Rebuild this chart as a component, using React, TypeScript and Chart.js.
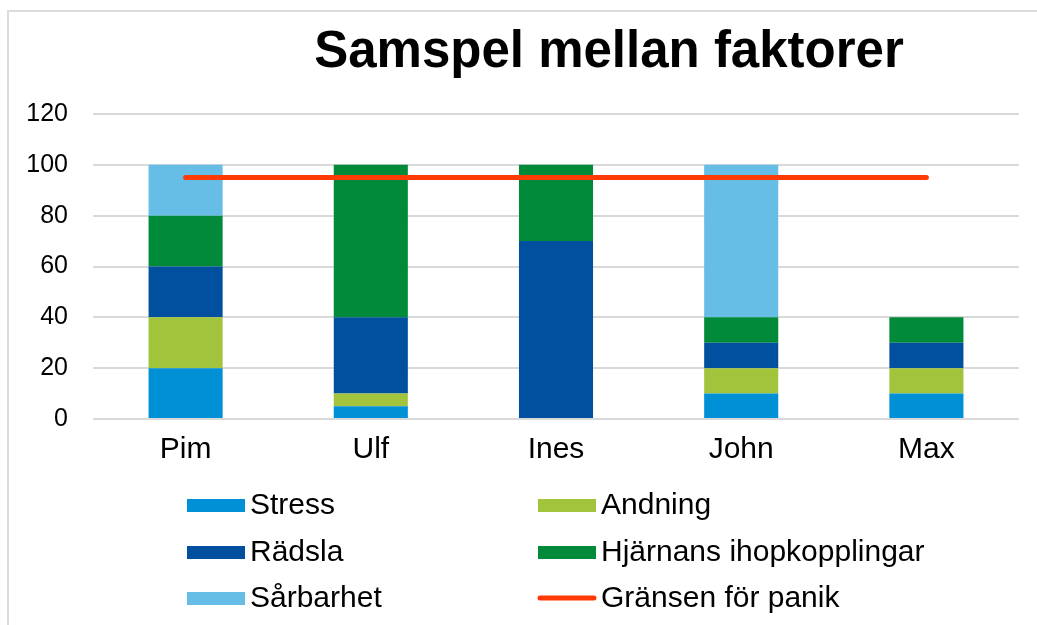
import React, { useEffect, useRef } from "react";
import { Chart, registerables } from "chart.js";

Chart.register(...registerables);

const categories = ["Pim", "Ulf", "Ines", "John", "Max"];
const stress = [20, 5, 0, 10, 10];
const andning = [20, 5, 0, 10, 10];
const radsla = [20, 30, 70, 10, 10];
const hjarnans = [20, 60, 30, 10, 10];
const sarbarhet = [20, 0, 0, 60, 0];
const panikGrans = [95, 95, 95, 95, 95];
const yTicks = [0, 20, 40, 60, 80, 100, 120];

const FONT = "'Liberation Sans', Arial, sans-serif";

const titlePlugin = {
  id: "customTitle",
  afterDraw(chart: any) {
    const ctx = chart.ctx;
    ctx.save();
    ctx.fillStyle = "#000";
    ctx.font = `bold 51px ${FONT}`;
    ctx.textAlign = "center";
    ctx.textBaseline = "alphabetic";
    ctx.fillText("Samspel mellan faktorer", 609, 67);
    ctx.restore();
  },
};

const legendPlugin = {
  id: "customLegend",
  afterDraw(chart: any) {
    const ctx = chart.ctx;
    const cols = [187, 538];
    const rows = [505, 552, 598];
    ctx.save();
    ctx.font = `30px ${FONT}`;
    ctx.textBaseline = "middle";
    ctx.textAlign = "left";
    chart.data.datasets.forEach((ds: any, i: number) => {
      const x = cols[i % 2];
      const y = rows[Math.floor(i / 2)];
      if (ds.type === "line") {
        ctx.strokeStyle = ds.borderColor;
        ctx.lineWidth = 5;
        ctx.lineCap = "round";
        ctx.beginPath();
        ctx.moveTo(x + 2, y);
        ctx.lineTo(x + 56, y);
        ctx.stroke();
      } else {
        ctx.fillStyle = ds.backgroundColor;
        ctx.fillRect(x, y - 6, 58, 13);
      }
      ctx.fillStyle = "#000";
      ctx.fillText(ds.label, x + 63, y + 1);
    });
    ctx.restore();
  },
};

export default function App() {
  const ref = useRef<HTMLCanvasElement>(null);
  useEffect(() => {
    if (!ref.current) return;
    const chart = new Chart(ref.current, {
      type: "bar",
      data: {
        labels: categories,
        datasets: [
          { label: "Stress", data: stress, backgroundColor: "#0090D6", stack: "s", order: 2 },
          { label: "Andning", data: andning, backgroundColor: "#A2C43C", stack: "s", order: 2 },
          { label: "Rädsla", data: radsla, backgroundColor: "#00509F", stack: "s", order: 2 },
          { label: "Hjärnans ihopkopplingar", data: hjarnans, backgroundColor: "#008A39", stack: "s", order: 2 },
          { label: "Sårbarhet", data: sarbarhet, backgroundColor: "#66BDE5", stack: "s", order: 2 },
          {
            type: "line",
            label: "Gränsen för panik",
            data: panikGrans,
            borderColor: "#FF3A05",
            backgroundColor: "#FF3A05",
            borderWidth: 5,
            pointRadius: 0,
            borderCapStyle: "round",
            order: 1,
          } as any,
        ],
      },
      options: {
        animation: false,
        responsive: false,
        maintainAspectRatio: false,
        layout: { padding: { top: 114, right: 18, bottom: 146, left: 0 } },
        datasets: { bar: { barPercentage: 0.8, categoryPercentage: 0.5 } },
        plugins: {
          legend: { display: false },
          title: { display: false },
          tooltip: { enabled: false },
        },
        scales: {
          x: {
            stacked: true,
            grid: { display: false, drawTicks: false },
            border: { display: false },
            ticks: { color: "#000", font: { family: FONT, size: 30 }, padding: 13 },
            afterFit: (s: any) => { s.height = 60; },
          },
          y: {
            stacked: true,
            min: 0,
            max: 120,
            afterBuildTicks: (s: any) => { s.ticks = yTicks.map((v) => ({ value: v })); },
            grid: { color: "#D9D9D9", lineWidth: 2, drawTicks: false },
            border: { display: false },
            ticks: { color: "#000", font: { family: FONT, size: 25 }, padding: 25 },
            afterFit: (s: any) => { s.width = 93; },
          },
        },
      },
      plugins: [titlePlugin, legendPlugin],
    } as any);
    return () => chart.destroy();
  }, []);
  return (
    <div style={{ position: "fixed", left: 0, top: 0, width: 1037, height: 625, background: "#fff" }}>
      <div style={{ position: "absolute", left: 7, top: 10, right: -10, bottom: -10, borderTop: "2px solid #DCDCDC", borderLeft: "2px solid #DCDCDC" }} />
      <canvas ref={ref} width={1037} height={625} style={{ position: "absolute", left: 0, top: 0 }} />
    </div>
  );
}
